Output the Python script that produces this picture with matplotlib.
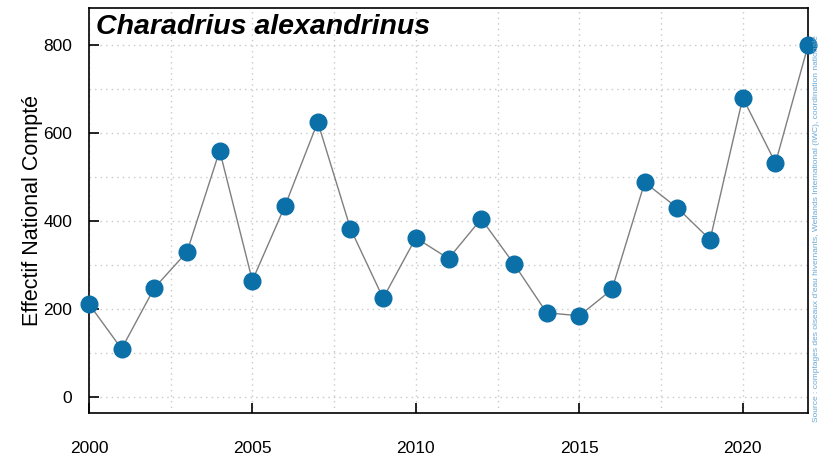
import matplotlib
matplotlib.use('Agg')
from matplotlib import pyplot as plt
from matplotlib.ticker import MultipleLocator

plt.rcParams['font.family'] = ['Liberation Sans', 'DejaVu Sans']

years = list(range(2000, 2023))
counts = [212, 110, 248, 330, 560, 265, 435, 625, 383, 225, 362, 315,
          405, 303, 192, 185, 245, 488, 430, 358, 680, 532, 800]

species = 'Charadrius alexandrinus'
y_label = 'Effectif National Compté'
source = ("Source : comptages des oiseaux d'eau hivernants, "
          "Wetlands International (IWC), coordination nationale")

fig = plt.figure(figsize=(8.23, 4.58), dpi=100)
ax = fig.add_axes([0.108, 0.098, 0.874, 0.8845])

ax.plot(years, counts, color='#7f7f7f', linewidth=1, zorder=2)
ax.plot(years, counts, 'o', color='#0b6fa8', markersize=12, zorder=3,
        clip_on=False)

ax.set_xlim(2000, 2022)
ax.set_ylim(-36, 884)
ax.xaxis.set_major_locator(MultipleLocator(5))
ax.xaxis.set_minor_locator(MultipleLocator(2.5))
ax.yaxis.set_major_locator(MultipleLocator(200))
ax.yaxis.set_minor_locator(MultipleLocator(100))
ax.grid(which='both', color='#c8c8c8', linestyle=(0, (1, 3)), linewidth=1)
ax.set_axisbelow(True)
ax.tick_params(which='major', direction='in', length=7, width=1.2,
               labelsize=12.5)
ax.tick_params(which='minor', length=0)
ax.tick_params(axis='x', pad=20)
ax.tick_params(axis='y', pad=12)
for s in ax.spines.values():
    s.set_linewidth(1.2)

ax.set_ylabel(y_label, fontsize=15.5, labelpad=0)
ax.text(0.01, 0.985, species, transform=ax.transAxes, fontsize=20.5,
        fontweight='bold', fontstyle='italic', va='top', ha='left')
fig.text(0.992, 0.5, source, rotation=90, ha='center', va='center',
         fontsize=6, color='#6aa8d4')

fig.savefig('out.png', dpi=100)
